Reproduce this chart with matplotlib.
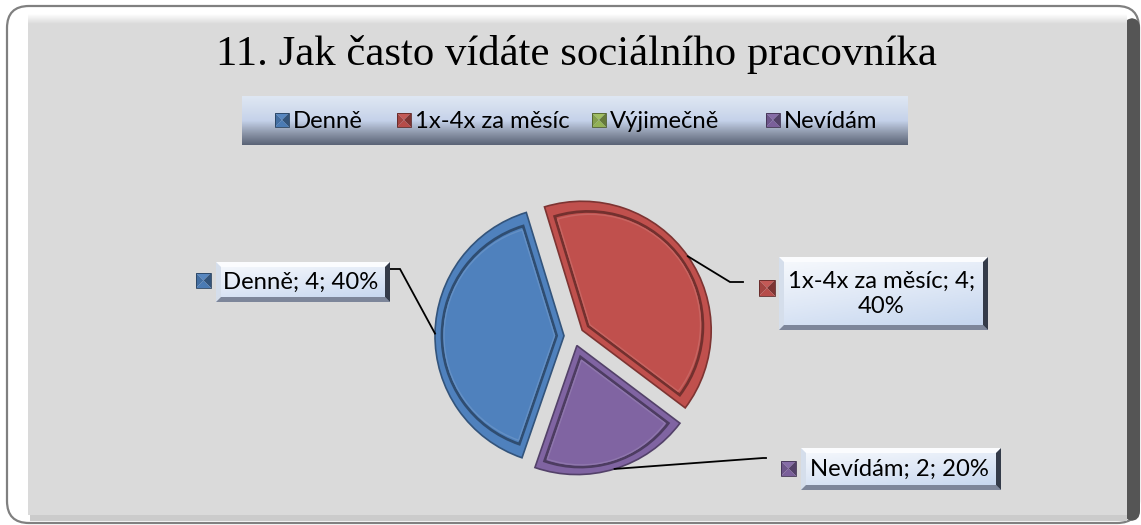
import numpy as np
import matplotlib
matplotlib.use("Agg")
import matplotlib.pyplot as plt
from matplotlib.patches import Polygon, Rectangle, FancyBboxPatch, Wedge
from matplotlib.colors import LinearSegmentedColormap, to_rgb

W, H = 1141, 525

# data
categories = ['Denně', '1x-4x za měsíc', 'Výjimečně', 'Nevídám']
counts = [4, 4, 0, 2]
colors = ['#4f81bd', '#c0504d', '#9bbb59', '#8064a2']
title = '11. Jak často vídáte sociálního pracovníka'

LABEL_FONT = 'Lato'
TITLE_FONT = 'Liberation Serif'
FS = 17.2


def shade(c, f):
    r, g, b = to_rgb(c)
    if f >= 0:
        return (r + (1 - r) * f, g + (1 - g) * f, b + (1 - b) * f)
    return (r * (1 + f), g * (1 + f), b * (1 + f))


fig = plt.figure(figsize=(W / 100, H / 100), dpi=100)
fig.patch.set_facecolor('white')
ax = fig.add_axes([0, 0, 1, 1])
ax.axis('off')


def P(pts):
    # image pixel coords (y down) -> data coords
    return [(x, H - y) for x, y in pts]


def grad(x0, y0, x1, y1, stops, mode='v', z=1):
    n = 80
    t = np.linspace(0, 1, n)
    if mode == 'v':
        arr = np.repeat(t[:, None], n, axis=1)
    elif mode == 'h':
        arr = np.repeat(t[None, :], n, axis=0)
    else:
        arr = (t[:, None] * 0.7 + t[None, :] * 0.3)
    cmap = LinearSegmentedColormap.from_list('g', stops)
    ax.imshow(arr, cmap=cmap, extent=(x0, x1, H - y1, H - y0), origin='upper',
              aspect='auto', interpolation='bilinear', zorder=z)


# frame and panel
ax.add_patch(FancyBboxPatch((7, H - 523), 1132, 517, boxstyle='round,pad=0,rounding_size=22',
                            fc='white', ec='#808080', lw=1.6, zorder=0))
ax.add_patch(FancyBboxPatch((1124, H - 521), 16, 503, boxstyle='round,pad=0,rounding_size=10',
                            fc='#555555', ec='none', zorder=1))
grad(28, 14, 1127, 24, ['#ffffff', '#dadada'], 'v', z=1)
ax.add_patch(Rectangle((28, H - 515), 1099, 491, fc='#dadada', ec='none', zorder=1))
ax.add_patch(Rectangle((30, H - 521), 1097, 6, fc='#cbcbcb', ec='none', zorder=1))

# title
ax.text(576, H - 55, title, fontsize=30.8, family=TITLE_FONT, ha='center', va='center',
        color='black', zorder=5)


def marker(x, y, s, c, z=6):
    # bevelled square (pyramid look)
    cx, cy = x + s / 2, y + s / 2
    tri = {
        'top': [(x, y), (x + s, y), (cx, cy)],
        'left': [(x, y), (cx, cy), (x, y + s)],
        'right': [(x + s, y), (x + s, y + s), (cx, cy)],
        'bottom': [(x, y + s), (cx, cy), (x + s, y + s)],
    }
    fac = {'top': 0.05, 'left': -0.15, 'right': -0.35, 'bottom': -0.05}
    for k, pts in tri.items():
        ax.add_patch(Polygon(P(pts), closed=True, fc=shade(c, fac[k]), ec='none', zorder=z))
    ax.add_patch(Rectangle((x, H - y - s), s, s, fc='none', ec=shade(c, -0.5), lw=0.6, zorder=z))


def label_box(x0, y0, x1, y1, z=6):
    grad(x0, y0, x1, y1, ['#f8fafd', '#dfe8f6', '#c2d4ee'], 'd', z=z)
    b = 5
    ax.add_patch(Polygon(P([(x0, y0), (x1, y0), (x1 - b, y0 + b), (x0 + b, y0 + b)]),
                         fc='#fbfcfe', ec='none', zorder=z + 0.1))
    ax.add_patch(Polygon(P([(x0, y0), (x0 + b, y0 + b), (x0 + b, y1 - b), (x0, y1)]),
                         fc='#d5deeb', ec='none', zorder=z + 0.1))
    ax.add_patch(Polygon(P([(x0, y1), (x1, y1), (x1 - b, y1 - b), (x0 + b, y1 - b)]),
                         fc='#7d869a', ec='none', zorder=z + 0.1))
    ax.add_patch(Polygon(P([(x1, y0), (x1, y1), (x1 - b, y1 - b), (x1 - b, y0 + b)]),
                         fc='#343b49', ec='none', zorder=z + 0.2))


# legend box
grad(242, 96, 908, 145, ['#dfe7f3', '#d3ddee', '#c5d2ea', '#8f99ac', '#5b6477'], 'v', z=3)
leg_marker_x = [275, 397, 592, 766]
for cat, col, mx in zip(categories, colors, leg_marker_x):
    marker(mx, 113, 14, col, z=4)
    ax.text(mx + 18, H - 121, cat, fontsize=FS, family=LABEL_FONT, ha='left', va='center',
            color='black', zorder=5)

# pie
center = (574, H - 336)
radius = 129
wedges, _ = ax.pie(counts, colors=colors, startangle=-109, counterclock=False,
                   radius=radius, center=center, explode=[10] * len(counts),
                   wedgeprops=dict(linewidth=1.2), frame=True)

total = sum(counts)
for w, col, v in zip(wedges, colors, counts):
    w.set_zorder(3)
    if v == 0:
        w.set_visible(False)
        continue
    w.set_edgecolor(shade(col, -0.35))
    # inner bevel outline
    t1, t2 = w.theta1, w.theta2
    h = np.radians(t2 - t1) / 2
    mid = np.radians((t1 + t2) / 2)
    cx, cy = w.center
    for d, ec, lw in [(7, shade(col, -0.4), 2.0), (9, shade(col, 0.12), 1.0)]:
        s = d / np.sin(h)
        ax.add_patch(Wedge((cx + s * np.cos(mid), cy + s * np.sin(mid)), w.r - d - s, t1, t2,
                           fc='none', ec=ec, lw=lw, zorder=3.5))


def arc_mid(w):
    mid = np.radians((w.theta1 + w.theta2) / 2)
    return (w.center[0] + w.r * np.cos(mid), H - (w.center[1] + w.r * np.sin(mid)))


# data labels: box (x0, y0, x1, y1), marker pos, leader knee points (image px)
label_layout = {
    0: dict(box=(216, 262, 390, 302), mk=(196, 273, 15), knees=[(390, 269), (400, 269)]),
    1: dict(box=(779, 257, 988, 330), mk=(759, 280, 16), knees=[(743, 282), (730, 282)]),
    3: dict(box=(801, 448, 1001, 490), mk=(781, 461, 15), knees=[(766, 458), (763, 458)]),
}
for i, lay in label_layout.items():
    pct = round(100 * counts[i] / total)
    txt = f'{categories[i]}; {counts[i]}; {pct}%'
    if i == 1:
        txt = f'{categories[i]}; {counts[i]};\n{pct}%'
    x0, y0, x1, y1 = lay['box']
    label_box(x0, y0, x1, y1)
    ax.text((x0 + x1) / 2 - 2, H - (y0 + y1) / 2, txt, fontsize=FS, family=LABEL_FONT,
            ha='center', va='center', linespacing=1.25, color='black', zorder=8)
    mx, my, ms = lay['mk']
    marker(mx, my, ms, colors[i], z=6)
    pts = lay['knees'] + [arc_mid(wedges[i])]
    ax.plot([p[0] for p in pts], [H - p[1] for p in pts], color='black', lw=1.3, zorder=4,
            solid_joinstyle='miter')

ax.set_xlim(0, W)
ax.set_ylim(0, H)
ax.set_aspect('auto')
fig.savefig('out.png', dpi=100, facecolor='white')
